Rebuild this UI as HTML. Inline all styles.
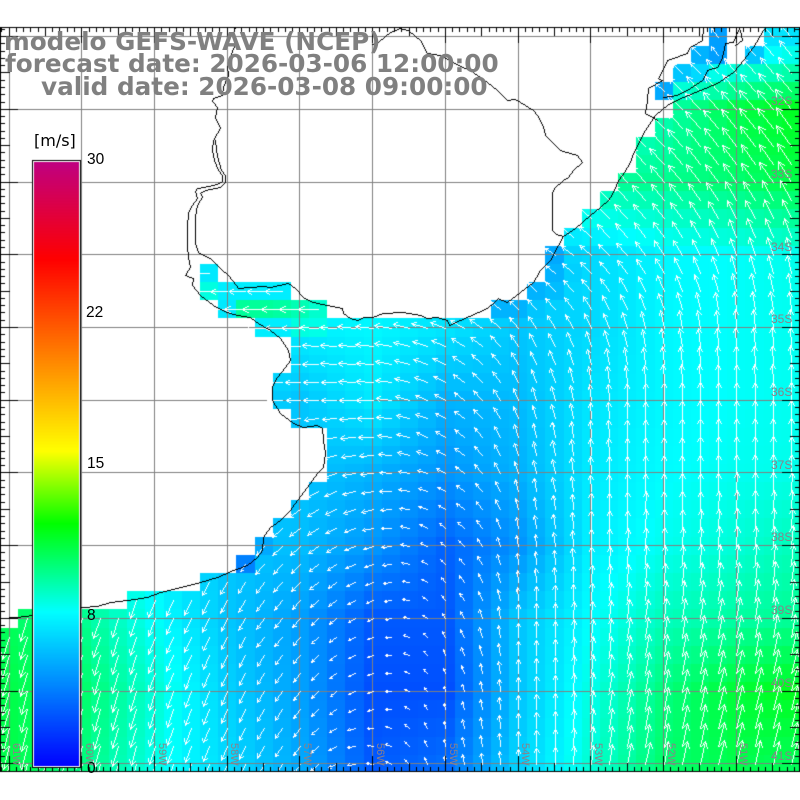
<!DOCTYPE html>
<html><head><meta charset="utf-8">
<style>
html,body{margin:0;padding:0;background:#fff;}
#wrap{position:relative;width:800px;height:800px;overflow:hidden;background:#fff;}
canvas{position:absolute;left:0;top:0;}
svg{position:absolute;left:0;top:0;}
</style></head><body>
<div id="wrap">
<canvas id="c" width="800" height="800"></canvas>
<svg width="800" height="800" viewBox="0 0 800 800" xmlns="http://www.w3.org/2000/svg">
<g font-family="'DejaVu Sans', sans-serif" font-weight="bold" font-size="24.7" fill="#808080">
<text x="4" y="50">modelo GEFS-WAVE (NCEP)</text>
<text x="5" y="72">forecast date: 2026-03-06 12:00:00</text>
<text x="41" y="95">valid date: 2026-03-08 09:00:00</text>
</g>
<text x="34" y="146" font-family="'DejaVu Sans', sans-serif" font-size="16" fill="#000">[m/s]</text>
<g font-family="'Liberation Sans', sans-serif" font-size="15.5" fill="#000">
<text x="87" y="164">30</text>
<text x="86" y="317">22</text>
<text x="87" y="468">15</text>
<text x="87" y="620">8</text>
<text x="87" y="773">0</text>
</g>
<g font-family="'Liberation Sans', sans-serif" font-size="12" fill="#8c8088">
<text x="771" y="105">32S</text>
<text x="771" y="178">33S</text>
<text x="771" y="251">34S</text>
<text x="771" y="323">35S</text>
<text x="771" y="396">36S</text>
<text x="771" y="469">37S</text>
<text x="771" y="541">38S</text>
<text x="771" y="614">39S</text>
<text x="771" y="687">40S</text>
<text x="771" y="760">41S</text>
</g>
<g font-family="'Liberation Sans', sans-serif" font-size="11" fill="#8c8088">
<text transform="translate(13,743) rotate(90)">61W</text>
<text transform="translate(86,743) rotate(90)">60W</text>
<text transform="translate(159,743) rotate(90)">59W</text>
<text transform="translate(231,743) rotate(90)">58W</text>
<text transform="translate(304,743) rotate(90)">57W</text>
<text transform="translate(377,743) rotate(90)">56W</text>
<text transform="translate(450,743) rotate(90)">55W</text>
<text transform="translate(522,743) rotate(90)">54W</text>
<text transform="translate(595,743) rotate(90)">53W</text>
<text transform="translate(668,743) rotate(90)">52W</text>
<text transform="translate(740,743) rotate(90)">51W</text>
</g>
</svg>
</div>
<script>
(function(){
const cv=document.getElementById('c');const ctx=cv.getContext('2d');
ctx.fillStyle='#fff';ctx.fillRect(0,0,800,800);
const CW=800/44,Y0=27.5;
const T=[
[0.2,0.2,0.2,0.2,0.2,0.2,0.2,0.2,0.2,0.17,0.2,0.24],
[0.2,0.2,0.2,0.2,0.2,0.2,0.2,0.2,0.25,0.3,0.36,0.39],
[0.24,0.24,0.24,0.24,0.24,0.24,0.24,0.28,0.31,0.32,0.34,0.37],
[0.24,0.24,0.24,0.24,0.24,0.24,0.22,0.2,0.22,0.25,0.26,0.27],
[0.3,0.3,0.24,0.24,0.24,0.25,0.23,0.2,0.22,0.25,0.26,0.265],
[0.25,0.25,0.22,0.22,0.2,0.235,0.18,0.19,0.23,0.25,0.26,0.265],
[0.25,0.25,0.22,0.2,0.2,0.18,0.15,0.18,0.235,0.255,0.265,0.27],
[0.3,0.28,0.24,0.2,0.19,0.15,0.1,0.15,0.24,0.265,0.28,0.3],
[0.35,0.32,0.26,0.2,0.16,0.09,0.09,0.2,0.255,0.295,0.31,0.32],
[0.36,0.34,0.28,0.21,0.16,0.08,0.08,0.2,0.27,0.33,0.37,0.39],
[0.36,0.33,0.27,0.22,0.17,0.09,0.11,0.21,0.28,0.34,0.36,0.35]];
const A=[
[150,150,150,150,150,150,150,150,140,135,132,130],
[150,150,150,150,150,150,150,150,140,135,130,128],
[160,160,160,160,160,160,155,145,135,130,125,122],
[180,180,180,180,180,175,160,150,140,125,110,105],
[180,180,180,180,180,175,160,130,115,102,95,93],
[185,185,180,180,180,178,150,112,95,90,90,90],
[220,225,230,230,210,185,155,108,92,90,90,88],
[250,248,245,238,222,198,145,100,90,88,87,85],
[252,252,250,242,228,205,125,92,85,82,80,80],
[254,254,252,245,232,200,110,92,84,78,76,76],
[255,255,253,247,236,170,100,92,84,78,76,76]];
const OV={"0,39":0.16,"1,38":0.18,"1,39":0.16,"1,41":0.2,"0,42":0.23,"0,43":0.23,"2,37":0.2,"2,38":0.22,"3,36":0.17,
"12,30":0.17,"13,30":0.18,"13,31":0.21,"14,29":0.18,"14,30":0.19,"15,27":0.18,"15,28":0.18,"15,29":0.2,
"13,11":0.235,"14,11":0.275,"14,12":0.24,"14,13":0.24,"14,14":0.24,"14,15":0.24,"15,12":0.235,"15,13":0.315,"15,14":0.315,"15,15":0.31,"15,16":0.30,"15,17":0.285,"16,14":0.24,"16,15":0.24,"16,16":0.275,"16,17":0.27,
"29,13":0.13,"28,14":0.17};
function bil(tab,i,j,f){
  let c=i/4,r=j/4;c=Math.min(Math.max(c,0),11);r=Math.min(Math.max(r,0),10);
  let c0=Math.floor(c),r0=Math.floor(r),c1=Math.min(c0+1,11),r1=Math.min(r0+1,10);
  let fc=c-c0,fr=r-r0;
  let g=(a)=>f?f(a):a;
  return g(tab[r0][c0])*(1-fc)*(1-fr)+g(tab[r0][c1])*fc*(1-fr)+g(tab[r1][c0])*(1-fc)*fr+g(tab[r1][c1])*fc*fr;
}
const stops=[[0,0,0,255],[0.257,0,255,255],[0.403,0,255,0],[0.523,255,255,0],[0.84,255,0,0],[1,192,0,128]];
function col(t){
  t=Math.max(0,Math.min(1,t));
  for(let k=0;k<stops.length-1;k++){
    const a=stops[k],b=stops[k+1];
    if(t<=b[0]){const f=(t-a[0])/(b[0]-a[0]);
      return 'rgb('+Math.round(a[1]+(b[1]-a[1])*f)+','+Math.round(a[2]+(b[2]-a[2])*f)+','+Math.round(a[3]+(b[3]-a[3])*f)+')';}
  }
  return 'rgb(192,0,128)';
}
const R={2:37,3:36,4:37,5:36,6:35,7:35,8:34,9:33,10:32,11:31,12:30,13:30,14:29,15:27};
const L={17:16,18:16,19:15,20:15,21:16,22:18,23:18,24:18,25:17,26:16,27:15,28:14,29:13,30:11,31:7};
function isData(i,j){
  if(j===0)return i===39||i>=42;
  if(j===1)return i===38||i===39||i>=41;
  if(j<=15){if(i>=R[j])return true;
    if(j===13)return i===11;
    if(j===14)return i>=11&&i<=15;
    if(j===15)return i>=12&&i<=17;
    return false;}
  if(j===16)return i>=14;
  if(j<=31)return i>=L[j];
  if(j===32)return i>=1;
  return true;
}
function tval(i,j){const k=j+','+i;if(OV[k]!==undefined)return OV[k];return bil(T,i,j);}
ctx.save();ctx.beginPath();ctx.rect(0,28,800,743);ctx.clip();
for(let j=0;j<41;j++)for(let i=0;i<44;i++){
  if(!isData(i,j))continue;
  const x0=Math.round(i*CW),x1=Math.round((i+1)*CW),y0=Math.round(Y0+j*CW),y1=Math.round(Y0+(j+1)*CW);
  ctx.fillStyle=col(tval(i,j));ctx.fillRect(x0,y0,x1-x0,y1-y0);
}
ctx.restore();
ctx.fillStyle='#808080';
for(let k=0;k<11;k++){const x=Math.floor(9.09+72.727*k);ctx.fillRect(x,27,1,745);}
for(let k=0;k<11;k++){const y=Math.floor(36.6+72.727*k);ctx.fillRect(0,y,800,1);}
function line(x0,y0,x1,y1){x0=Math.round(x0);y0=Math.round(y0);x1=Math.round(x1);y1=Math.round(y1);
  let dx=Math.abs(x1-x0),sx=x0<x1?1:-1,dy=-Math.abs(y1-y0),sy=y0<y1?1:-1,err=dx+dy,n=0;
  while(n++<2000){ctx.fillRect(x0,y0,1,1);if(x0===x1&&y0===y1)break;const e2=2*err;if(e2>=dy){err+=dy;x0+=sx;}if(e2<=dx){err+=dx;y0+=sy;}}}
function poly(p){for(let k=0;k<p.length-1;k++)line(p[k][0],p[k][1],p[k+1][0],p[k+1][1]);}
ctx.save();ctx.beginPath();ctx.rect(0,28,800,743);ctx.clip();
ctx.fillStyle='#fff';
for(let j=0;j<41;j++)for(let i=0;i<44;i++){
  if(!isData(i,j))continue;
  const t=tval(i,j);const sp=t<=0.25?32*t:8+28*(t-0.25);
  const Ln=2.2*sp;
  const cu=bil(A,i,j,a=>Math.cos(a*Math.PI/180)),su=bil(A,i,j,a=>Math.sin(a*Math.PI/180));
  const th=Math.atan2(su,cu);
  const cx=(i+0.5)*CW,cy=Y0+(j+0.5)*CW;
  const hx=cx+Ln*Math.cos(th),hy=cy-Ln*Math.sin(th);
  line(cx,cy,hx,hy);
  const b=Math.max(2,0.3*Ln),d=28*Math.PI/180;
  const bk=th+Math.PI;
  line(hx,hy,hx+b*Math.cos(bk+d),hy-b*Math.sin(bk+d));
  line(hx,hy,hx+b*Math.cos(bk-d),hy-b*Math.sin(bk-d));
}
ctx.fillStyle='#000';
poly([[235,27],[233,33],[235,43],[230,57],[227,67],[228,75],[223,87],[222,95],[213,98],[212,101],[217,107],[215,117],[220,128],[213,140],[212,150],[214,160],[218,170],[222,175],[222,181],[217,184],[203,187],[197,188],[195,191],[197,198],[192,205],[188,213],[187,227],[187,247],[188,257],[190,267],[185,275],[193,278],[192,285],[200,295],[213,305],[227,312],[237,315],[250,317],[258,323],[270,330],[280,338],[288,350],[290,360],[285,367],[277,377],[272,387],[272,400],[280,413],[293,423],[303,427],[317,425],[322,428],[323,440],[325,453],[323,467],[317,473],[307,487],[297,500],[290,510],[280,520],[270,527],[263,537],[262,550],[257,557],[247,565],[233,570],[217,577],[200,582],[180,587],[160,592],[147,597],[127,600],[110,602],[97,606],[82,607],[32,615],[17,617],[0,618]]);
poly([[215,140],[216,150],[218,160],[221,170],[225,175],[225,182],[220,187],[205,190],[200,193],[202,197],[197,205],[195,217],[195,243],[198,252],[205,256],[210,258],[215,263],[220,268],[228,275],[232,280],[238,288],[250,287],[263,286],[270,287],[288,283],[295,288],[303,297],[313,302],[327,305],[342,308],[343,313],[350,318],[358,320],[363,317],[372,317],[383,313],[403,312],[420,315],[427,318],[437,317],[447,320],[449,325],[460,320],[487,308],[493,303],[498,298],[502,300],[507,302],[520,292],[533,282],[540,270],[550,260],[558,245],[563,236],[575,228],[590,215],[600,207],[608,200],[613,192],[618,180],[624,172],[630,162],[633,153],[645,130],[655,115],[667,105],[683,97],[700,90],[717,83],[733,72],[743,60],[753,47],[763,30],[766,27]]);
poly([[372,44],[378,42],[390,32],[400,28],[408,30],[420,40],[427,53],[440,55],[458,65],[470,70],[487,82],[497,90],[507,100],[515,99],[525,105],[533,110],[537,115],[543,127],[545,135],[553,143],[560,150],[570,153],[577,155],[582,162],[573,170],[568,177],[563,180],[555,187],[552,193],[552,200],[552,230],[556,234],[563,236]]);
poly([[703,27],[702,40],[690,47],[687,53],[667,60],[665,65],[658,78],[662,80],[648,88],[647,100],[645,113],[653,117],[657,120]]);
poly([[663,97],[677,95],[690,88],[702,80],[707,70],[717,67],[722,57],[725,43],[733,42],[737,32],[740,27]]);
poly([[735,45],[742,40],[740,30]]);
ctx.restore();
ctx.fillStyle='#000';
ctx.fillRect(0,27,800,1);ctx.fillRect(0,771,800,1);ctx.fillRect(0,27,1,745);ctx.fillRect(799,27,1,745);
for(let k=-10;k<120;k++){
  const x=Math.floor(9.09+7.2727*k);if(x<0||x>799)continue;
  const m=((k%10)+10)%10;const len=m===0?16:(m===5?9:5);
  ctx.fillRect(x,27,1,len);ctx.fillRect(x,772-len,1,len);
}
for(let k=-10;k<110;k++){
  const y=Math.floor(36.6+7.2727*k);if(y<27||y>771)continue;
  const m=((k%10)+10)%10;const len=m===0?18:(m===5?10:5);
  ctx.fillRect(0,y,len,1);ctx.fillRect(800-len,y,len,1);
}
ctx.fillStyle='#000';ctx.fillRect(32,160,49,608);
ctx.fillStyle='#fff';ctx.fillRect(33,161,47,606);
for(let y=162;y<=765;y++){ctx.fillStyle=col((766.5-y)/604);ctx.fillRect(34,y,45,1);}
})();
</script>
</body></html>
